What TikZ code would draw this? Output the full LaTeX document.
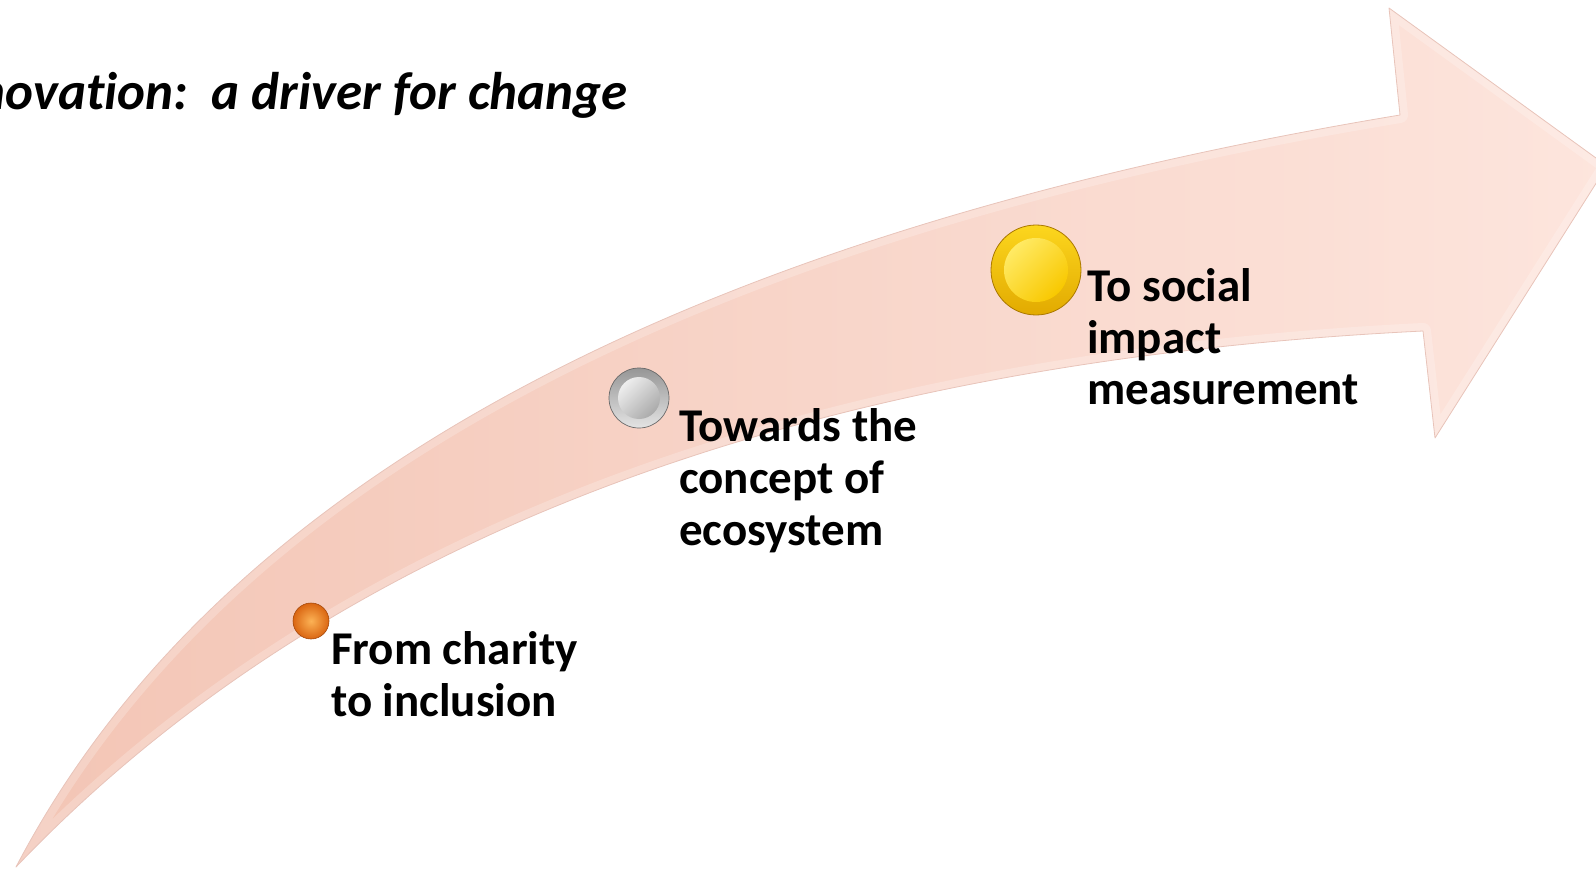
\documentclass[tikz,border=0pt]{standalone}
\usepackage{fontspec}
\setmainfont{Carlito}[Ligatures=NoCommon]
\usetikzlibrary{shadings}

% palette
\definecolor{arrowL}{RGB}{243,197,181}
\definecolor{arrowM}{RGB}{251,219,207}
\definecolor{arrowR}{RGB}{253,229,221}
\definecolor{arrowEdge}{RGB}{232,196,186}
\definecolor{orgIn}{RGB}{252,178,85}
\definecolor{orgOut}{RGB}{218,102,18}
\definecolor{orgRim}{RGB}{165,72,10}
\definecolor{grayUL}{RGB}{150,150,150}
\definecolor{grayLR}{RGB}{228,228,228}
\definecolor{grayInUL}{RGB}{238,238,238}
\definecolor{grayInLR}{RGB}{170,170,170}
\definecolor{grayRim}{RGB}{105,105,105}
\definecolor{yelUL}{RGB}{252,214,30}
\definecolor{yelLR}{RGB}{226,170,0}
\definecolor{yelInUL}{RGB}{255,234,100}
\definecolor{yelInLR}{RGB}{248,200,0}
\definecolor{yelRim}{RGB}{170,120,0}

\begin{document}
\begin{tikzpicture}[x=1pt,y=-1pt,
  stagetext/.style={anchor=base west, inner sep=0pt,
    font=\bfseries\fontsize{47}{52}\selectfont},
  headline/.style={anchor=base east, inner sep=0pt,
    font=\bfseries\itshape\fontsize{53}{60}\selectfont},
  dish/.style={circle, inner sep=0pt, shading angle=45}]
\useasboundingbox (0,0) rectangle (1596,869);
\clip (0,0) rectangle (1596,869);

% outline of the curved arrow
\def\arrowoutline{(16,867) .. controls (215,486) and (677,235) .. (1400,115)
  -- (1389,8) -- (1607,166) -- (1435,438) -- (1423,331)
  .. controls (796,362) and (327,541) .. (16,867) -- cycle}

% arrow body
\shade[left color=arrowL, middle color=arrowM, right color=arrowR]
  \arrowoutline;
% soft bevel just inside the rim
\begin{scope}
  \clip \arrowoutline;
  \draw[white, opacity=0.22, line width=16pt, line join=round] \arrowoutline;
\end{scope}
\draw[arrowEdge, line width=0.8pt, line join=round] \arrowoutline;

% title (t and i kept apart)
\node[headline] (title) at (628,110) {novat\kern0pt ion:\ \ a driver for change};

% stage 1: orange ball
\node[circle, inner sep=0pt, minimum size=36pt, inner color=orgIn,
      outer color=orgOut, draw=orgRim, line width=0.6pt] (b1) at (311,621) {};
% stage 2: silver dish
\node[dish, minimum size=60pt, top color=grayUL, bottom color=grayLR,
      draw=grayRim, line width=0.7pt] (b2) at (639,398) {};
\shade[top color=grayInUL, bottom color=grayInLR, shading angle=45]
  (b2.center) circle[radius=21pt];
% stage 3: gold dish
\node[dish, minimum size=90pt, top color=yelUL, bottom color=yelLR,
      draw=yelRim, line width=0.8pt] (b3) at (1036,270) {};
\shade[top color=yelInUL, bottom color=yelInLR, shading angle=45]
  (b3.center) circle[radius=32pt];

% stage labels
\node[stagetext] (s1) at (331,664)
  {\begin{tabular}[t]{@{}l@{}}From charity\\to inclusion\end{tabular}};
\node[stagetext] (s2) at (679,441)
  {\begin{tabular}[t]{@{}l@{}}Towards the\\concept of\\ecosystem\end{tabular}};
\node[stagetext] (s3) at (1087,301)
  {\begin{tabular}[t]{@{}l@{}}To social\\impact\\measurement\end{tabular}};
\end{tikzpicture}
\end{document}
